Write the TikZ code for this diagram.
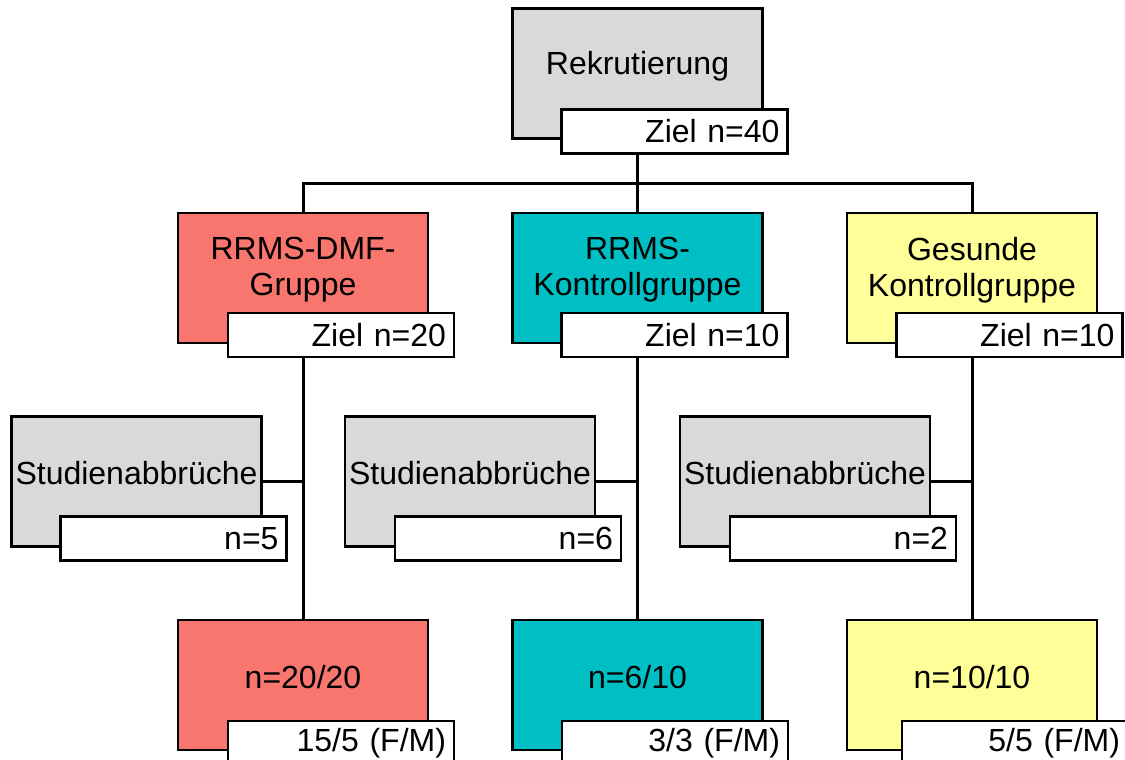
\documentclass[tikz,border=0pt]{standalone}
\usepackage{fontspec}
\setmainfont{Liberation Sans}
\definecolor{cgray}{HTML}{D9D9D9}
\definecolor{cred}{HTML}{F8766D}
\definecolor{cteal}{HTML}{00BFC4}
\definecolor{cyel}{HTML}{FFFF99}
\tikzset{
  box/.style={draw, line width=2.5pt, minimum width=250pt, minimum height=130pt, inner sep=0pt},
  lab/.style={draw, fill=white, line width=2.5pt, minimum width=226pt, minimum height=44pt, text width=210pt, align=right, inner sep=0pt},
  txt/.style={align=center, inner sep=0pt},
  conn/.style={line width=3pt}
}
\begin{document}
\begin{tikzpicture}[x=1pt, y=-1pt, font=\fontsize{32}{36}\selectfont]
\useasboundingbox (0,0) rectangle (1125,760);
\clip (0,0) rectangle (1125,760);
% top
\node[box, fill=cgray] (rek) at (637.5,73.5) {};
\node[txt] (rekt) at (637.5,66) {Rekrutierung};
\node[lab] (rekl) at (674.5,131.5) {Ziel n=40};
% groups
\node[box, fill=cred] (g1) at (303,278) {};
\node[txt] (g1t) at (303,270) {RRMS-DMF-\\Gruppe};
\node[lab] (g1l) at (341,335) {Ziel n=20};
\node[box, fill=cteal] (g2) at (637.5,278) {};
\node[txt] (g2t) at (637.5,270) {RRMS-\\Kontrollgruppe};
\node[lab] (g2l) at (674.5,335) {Ziel n=10};
\node[box, fill=cyel] (g3) at (972,278) {};
\node[txt] (g3t) at (972,270) {Gesunde\\Kontrollgruppe};
\node[lab] (g3l) at (1009.5,335) {Ziel n=10};
% dropouts
\node[box, fill=cgray] (s1) at (136.5,481.5) {};
\node[txt] (s1t) at (136.5,473) {Studienabbrüche};
\node[lab] (s1l) at (173.5,538.5) {n=5};
\node[box, fill=cgray] (s2) at (470,481.5) {};
\node[txt] (s2t) at (470,473) {Studienabbrüche};
\node[lab] (s2l) at (508,538.5) {n=6};
\node[box, fill=cgray] (s3) at (805,481.5) {};
\node[txt] (s3t) at (805,473) {Studienabbrüche};
\node[lab] (s3l) at (843,538.5) {n=2};
% final
\node[box, fill=cred] (f1) at (303,685) {};
\node[txt] (f1t) at (303,677) {n=20/20};
\node[lab] (f1l) at (341,743) {15/5 (F/M)};
\node[box, fill=cteal] (f2) at (637.5,685) {};
\node[txt] (f2t) at (637.5,677) {n=6/10};
\node[lab] (f2l) at (675,743) {3/3 (F/M)};
\node[box, fill=cyel] (f3) at (972,685) {};
\node[txt] (f3t) at (972,677) {n=10/10};
\node[lab] (f3l) at (1015,743) {5/5 (F/M)};
% connectors
\coordinate (bus) at (637.5,183);
\draw[conn] (rek.center |- rekl.south) -- (g2.north);
\draw[conn] (g1.north) -- (g1.north |- bus) -- (g3.north |- bus) -- (g3.north);
\draw[conn] (g1.center |- g1l.south) -- (f1.north);
\draw[conn] (g2.center |- g2l.south) -- (f2.north);
\draw[conn] (g3.center |- g3l.south) -- (f3.north);
\draw[conn] (s1.east) -- (s1.east -| f1.north);
\draw[conn] (s2.east) -- (s2.east -| f2.north);
\draw[conn] (s3.east) -- (s3.east -| f3.north);
\end{tikzpicture}
\end{document}
